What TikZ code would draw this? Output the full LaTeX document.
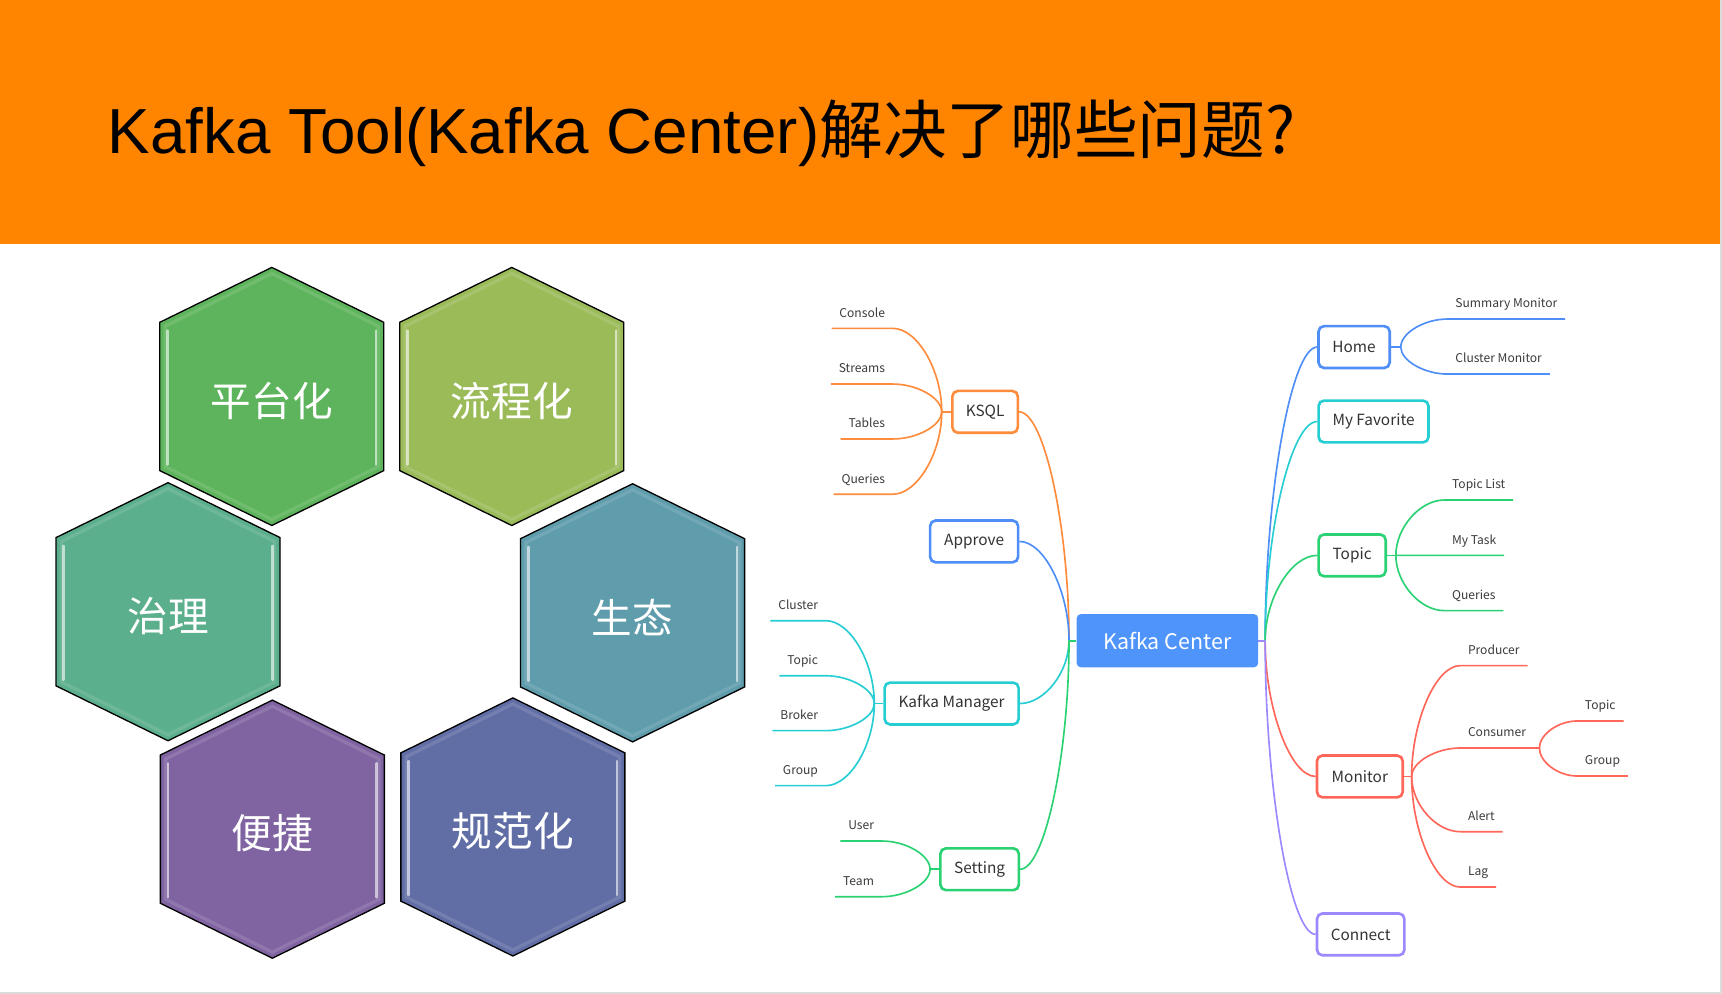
\documentclass[tikz,border=0pt]{standalone}
\usepackage{fontspec}
\setmainfont{Liberation Sans}
\newfontfamily\cjk{Noto Sans CJK SC}
\usetikzlibrary{calc}
\definecolor{band}{HTML}{FF8500}
\definecolor{framegray}{HTML}{DCDCDC}
\definecolor{hexA}{HTML}{5EB45C}
\definecolor{hexB}{HTML}{9BBB59}
\definecolor{hexC}{HTML}{5BAF8C}
\definecolor{hexD}{HTML}{5F9CAC}
\definecolor{hexE}{HTML}{8064A2}
\definecolor{hexF}{HTML}{616EA6}
\definecolor{cOrange}{HTML}{FF8C3C}
\definecolor{cBlue}{HTML}{4F8EF7}
\definecolor{cCyan}{HTML}{26CDD3}
\definecolor{cGreen}{HTML}{2BD273}
\definecolor{cRed}{HTML}{FF675A}
\definecolor{cPurple}{HTML}{9C89FF}
\definecolor{cCenter}{HTML}{4F94FA}
\definecolor{boxtext}{HTML}{333333}
\definecolor{leaftext}{HTML}{3C3C3C}
\pgfdeclarelayer{bg}
\pgfsetlayers{bg,main}
\tikzset{
  hextext/.style={text=white, inner sep=0pt, font=\cjk\fontsize{37}{40}\selectfont},
  mmbox/.style={draw=#1, line width=2.4pt, rounded corners=5pt, fill=white,
    minimum height=38.1pt, inner sep=0pt, text=boxtext,
    font=\cjk\fontsize{14}{17}\selectfont},
  centerbox/.style={fill=cCenter, rounded corners=4pt, minimum width=165.4pt,
    minimum height=48.5pt, inner sep=0pt, text=white,
    font=\cjk\fontsize{19.5}{23}\selectfont},
  mmline/.style={draw=#1, line width=1.5pt},
  leaf/.style={inner xsep=7pt, inner ysep=0pt, text height=8.5pt, text depth=10pt,
    text=leaftext, font=\cjk\fontsize{11}{13}\selectfont},
  leafL/.style={leaf, anchor=south east},
  leafR/.style={leaf, anchor=south west}
}
\newcommand\hexcell[5]{%
  \begin{scope}[shift={(#2,#3)}]
    \path[fill=#4, draw=black, line width=1.2pt, line join=miter]
      (0,-117.5) -- (102,-67.5) -- (102,67.5) -- (0,117.5) -- (-102,67.5) -- (-102,-67.5) -- cycle;
    \draw[white, opacity=0.12, line width=3pt]
      (0,-112) -- (97,-64) -- (97,64) -- (0,112) -- (-97,64) -- (-97,-64) -- cycle;
    \draw[white, opacity=0.6, line width=2.3pt, line cap=round] (-95,-60) -- (-95,62);
    \draw[white, opacity=0.6, line width=2.3pt, line cap=round] (95,-60) -- (95,62);
    \node[hextext] (#1) at (0,4) {#5};
  \end{scope}}
\newcommand\mmcurve[3]{%
  \draw[mmline=#1] let \p1=(#2), \p2=(#3), \p3=($(#2)!0.5!(#3)$) in
    (\p1) .. controls (\x1,\y3) and (\x3,\y2) .. (\p2);}
\newcommand\lnkL[3]{%
  \draw[mmline=#1] let \p1=(#2), \p2=(#3.south east), \p3=($(#2)!0.5!(#3.south east)$) in
    (\p1) .. controls (\x1,\y3) and (\x3,\y2) .. (\p2) -- (#3.south west);}
\newcommand\lnkR[3]{%
  \draw[mmline=#1] let \p1=(#2), \p2=(#3.south west), \p3=($(#2)!0.5!(#3.south west)$) in
    (\p1) .. controls (\x1,\y3) and (\x3,\y2) .. (\p2) -- (#3.south east);}
\begin{document}
\begin{tikzpicture}[x=1pt,y=-1pt]
\useasboundingbox (0,0) rectangle (1568,905);
\begin{pgfonlayer}{bg}
\fill[white] (0,0) rectangle (1568,905);
\end{pgfonlayer}
\fill[band] (0,0) rectangle (1566,222.2);
\fill[framegray] (1566,0) rectangle (1568,905);
\fill[framegray] (0,903.2) rectangle (1568,905);
\node[anchor=base west, inner sep=0pt, font=\fontsize{58}{70}\selectfont] (title) at (98,140)
  {Kafka Tool(Kafka Center){\cjk 解决了哪些问题?}};

% hexagons
\hexcell{hplat}{247.5}{361}{hexA}{平台化}
\hexcell{hflow}{466}{361}{hexB}{流程化}
\hexcell{hgov}{153}{557}{hexC}{治理}
\hexcell{heco}{576}{558}{hexD}{生态}
\hexcell{heasy}{248}{755}{hexE}{便捷}
\hexcell{hnorm}{467}{753}{hexF}{规范化}

% mind map boxes
\node[centerbox] (kc) at (1063,583.4) {Kafka Center};
\node[mmbox=cOrange, minimum width=59.6pt] (ksql) at (897,375) {KSQL};
\node[mmbox=cBlue, minimum width=80.1pt] (approve) at (887,493) {Approve};
\node[mmbox=cCyan, minimum width=122.1pt] (kmgr) at (866.5,640.6) {Kafka Manager};
\node[mmbox=cGreen, minimum width=71.4pt] (setting) at (892,791.5) {Setting};
\node[mmbox=cBlue, minimum width=64.8pt] (home) at (1233,316) {Home};
\node[mmbox=cCyan, minimum width=100.1pt] (fav) at (1250.7,383.8) {My Favorite};
\node[mmbox=cGreen, minimum width=61.1pt] (topic) at (1231.2,505.7) {Topic};
\node[mmbox=cRed, minimum width=78.1pt] (monitor) at (1238.2,707) {Monitor};
\node[mmbox=cPurple, minimum width=79.6pt] (connect) at (1239,850.8) {Connect};

% junctions
\coordinate (cL) at (973.4,583.4);
\coordinate (cR) at (1152,583.4);
\coordinate (jKsql) at (857.5,375);
\coordinate (jKm) at (796.1,640.6);
\coordinate (jSet) at (846.9,791.5);
\coordinate (jHome) at (1275.5,316);
\coordinate (jTopic) at (1271,505.7);
\coordinate (jMon) at (1285.4,707);
\coordinate (jCons) at (1401.7,681.1);

% leaves
\node[leafL] (console) at (813,299) {Console};
\node[leafL] (streams) at (813,349.7) {Streams};
\node[leafL] (tables) at (813,399.7) {Tables};
\node[leafL] (kqueries) at (813,450) {Queries};
\node[leafL] (cluster) at (752,565.2) {Cluster};
\node[leafL] (kmtopic) at (752,615.3) {Topic};
\node[leafL] (broker) at (752,665.3) {Broker};
\node[leafL] (kmgroup) at (752,715.4) {Group};
\node[leafL] (user) at (803,765.8) {User};
\node[leafL] (team) at (803,816.5) {Team};
\node[leafR] (summ) at (1318,290.5) {Summary Monitor};
\node[leafR] (clmon) at (1318,340.6) {Cluster Monitor};
\node[leafR] (tlist) at (1315,455.3) {Topic List};
\node[leafR] (mytask) at (1315,505.7) {My Task};
\node[leafR] (tqueries) at (1315,556) {Queries};
\node[leafR] (producer) at (1329.5,606.1) {Producer};
\node[leafR] (consumer) at (1329.5,681.1) {Consumer};
\node[leafR] (alert) at (1329.5,757.3) {Alert};
\node[leafR] (lag) at (1329.5,807.7) {Lag};
\node[leafR] (ctopic) at (1436,656.5) {Topic};
\node[leafR] (cgroup) at (1436,706.6) {Group};

\begin{pgfonlayer}{bg}
% centre to first level
\mmcurve{cOrange}{cL}{ksql.east}
\mmcurve{cBlue}{cL}{approve.east}
\mmcurve{cCyan}{cL}{kmgr.east}
\mmcurve{cGreen}{cL}{setting.east}
\draw[mmline=cGreen] (cL) -- (kc.west);
\mmcurve{cBlue}{cR}{home.west}
\mmcurve{cCyan}{cR}{fav.west}
\mmcurve{cGreen}{cR}{topic.west}
\mmcurve{cRed}{cR}{monitor.west}
\mmcurve{cPurple}{cR}{connect.west}
\draw[mmline=cPurple] (kc.east) -- (cR);
% KSQL
\draw[mmline=cOrange] (ksql.west) -- (jKsql);
\lnkL{cOrange}{jKsql}{console}
\lnkL{cOrange}{jKsql}{streams}
\lnkL{cOrange}{jKsql}{tables}
\lnkL{cOrange}{jKsql}{kqueries}
% Kafka Manager
\draw[mmline=cCyan] (kmgr.west) -- (jKm);
\lnkL{cCyan}{jKm}{cluster}
\lnkL{cCyan}{jKm}{kmtopic}
\lnkL{cCyan}{jKm}{broker}
\lnkL{cCyan}{jKm}{kmgroup}
% Setting
\draw[mmline=cGreen] (setting.west) -- (jSet);
\lnkL{cGreen}{jSet}{user}
\lnkL{cGreen}{jSet}{team}
% Home
\draw[mmline=cBlue] (home.east) -- (jHome);
\lnkR{cBlue}{jHome}{summ}
\lnkR{cBlue}{jHome}{clmon}
% Topic
\draw[mmline=cGreen] (topic.east) -- (jTopic);
\lnkR{cGreen}{jTopic}{tlist}
\lnkR{cGreen}{jTopic}{mytask}
\lnkR{cGreen}{jTopic}{tqueries}
% Monitor
\draw[mmline=cRed] (monitor.east) -- (jMon);
\lnkR{cRed}{jMon}{producer}
\lnkR{cRed}{jMon}{consumer}
\draw[mmline=cRed] (consumer.south east) -- (jCons);
\lnkR{cRed}{jMon}{alert}
\lnkR{cRed}{jMon}{lag}
\lnkR{cRed}{jCons}{ctopic}
\lnkR{cRed}{jCons}{cgroup}
\end{pgfonlayer}
\end{tikzpicture}
\end{document}
